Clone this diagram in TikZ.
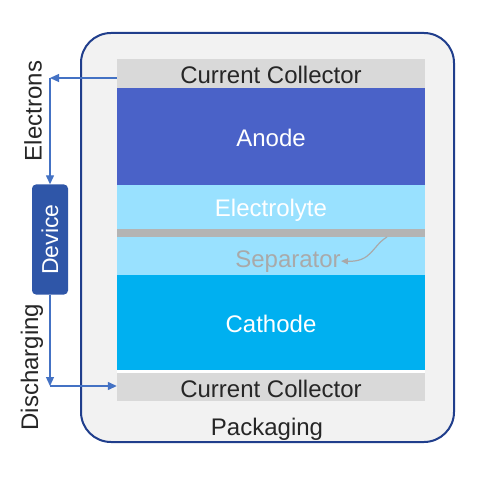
\documentclass[tikz,border=0pt]{standalone}
\usepackage{fontspec}
\setmainfont{Liberation Sans}
\usetikzlibrary{arrows.meta}
\definecolor{pkgfill}{HTML}{F2F2F2}
\definecolor{pkgdraw}{HTML}{203E8C}
\definecolor{ccgrey}{HTML}{D9D9D9}
\definecolor{anodec}{HTML}{4A62C8}
\definecolor{elyte}{HTML}{99E1FF}
\definecolor{sepgrey}{HTML}{B4B4B4}
\definecolor{cathc}{HTML}{00B0F0}
\definecolor{devc}{HTML}{2F56A8}
\definecolor{arrc}{HTML}{4472C4}
\definecolor{txtgrey}{HTML}{A9A9A9}
\begin{document}
\begin{tikzpicture}[x=1pt,y=-1pt,
  big/.style={font=\fontsize{24}{28}\selectfont},
  band/.style={draw=none, inner sep=0pt, minimum width=308pt, anchor=center},
  layer/.style={band, big, text height=20pt, text depth=0pt},
  arr/.style={draw=arrc, line width=1.3pt, -{Triangle[length=9pt,width=8pt]}},
  lbl/.style={big, text=black!85, rotate=90, inner sep=0pt}
]
\useasboundingbox (0,0) rectangle (500,478);
\node[draw=pkgdraw, line width=2pt, fill=pkgfill, rounded corners=30pt,
      minimum width=373pt, minimum height=409pt, inner sep=0pt] (pack) at (267.5,237.5) {};
\node[layer, fill=ccgrey, minimum height=29pt, text=black!85] (cc1) at (271,73.5) {Current Collector};
\node[layer, fill=anodec, minimum height=97pt, text=white] (anode) at (271,136.5) {Anode};
\node[layer, fill=elyte, minimum height=44pt, text=white] (elyte) at (271,207) {Electrolyte};
\node[band, fill=sepgrey, minimum height=8pt] (sepline) at (271,233) {};
\node[band, fill=elyte, minimum height=38pt] (sepband) at (271,256) {};
\node[layer, fill=cathc, minimum height=95pt, text=white] (cath) at (271,322.5) {Cathode};
\node[band, fill=white, minimum height=3pt] (gap) at (271,371.5) {};
\node[layer, fill=ccgrey, minimum height=28pt, text=black!85] (cc2) at (271,387) {Current Collector};
\node[big, text=black!85, inner sep=0pt, anchor=base] (packlbl) at (267,435) {Packaging};
\node[big, text=txtgrey, inner sep=0pt, anchor=base] (septxt) at (288,267) {Separator};
\coordinate (sp) at (387,237);
\draw[draw=txtgrey, line width=1.2pt, -{Triangle[length=7pt,width=6pt]}] (sp) .. controls (372,246) and (372,262) .. (septxt.east);
\node[fill=devc, rounded corners=4pt, minimum width=36pt, minimum height=110pt, inner sep=0pt, text=white]
  (dev) at (50,239.5) {\rotatebox{90}{\fontsize{23}{27}\selectfont Device}};
\coordinate (c1) at (50,78);
\coordinate (c2) at (50,386);
\draw[arr] (c1 -| cc1.west) -- (c1);
\draw[arr] (c1) -- (dev.north);
\draw[arr] (dev.south) -- (c2);
\draw[arr] (c2) -- (c2 -| cc2.west);
\node[lbl] (elec) at (33,111) {Electrons};
\node[lbl] (disc) at (32,367) {Discharging};
\end{tikzpicture}
\end{document}
